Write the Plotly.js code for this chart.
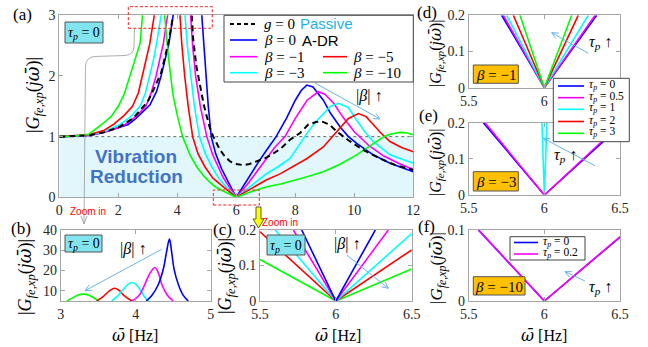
<!DOCTYPE html>
<html><head><meta charset="utf-8">
<script src="https://cdn.plot.ly/plotly-3.0.1.min.js"></script>
<style>html,body{margin:0;padding:0;background:#fff}#chart{width:648px;height:347px}</style>
</head><body><div id="chart"></div>
<script>
// ---------- Panel (a): |G| vs frequency, tau_p = 0 ----------
const aPassX = [0,0.5,1,1.5,2,2.5,3,3.2,3.45,3.6,3.72,3.86,4.17,4.49,4.54,4.65,4.77,4.9,5.0,5.1,5.22,5.35,5.45,5.6,5.79,6.0,6.24,6.45,6.69,7.0,7.25,7.5,7.82,8.16,8.44,8.7,8.9,9.15,9.42,9.8,10.3,10.87,11.4,12];
const aPassY = [1,1.005,1.02,1.07,1.15,1.3,1.58,1.78,2.05,2.35,2.6,3,10,3,2.6,2.15,1.82,1.52,1.33,1.15,1.0,0.87,0.78,0.68,0.59,0.55,0.53,0.55,0.59,0.65,0.72,0.8,0.95,1.06,1.2,1.24,1.25,1.2,1.08,0.94,0.78,0.64,0.53,0.45];
const aB0X = [0,0.5,1,1.5,2,2.34,2.6,2.85,3.07,3.3,3.45,3.6,3.72,3.86,4.45,4.83,4.9,4.97,5.05,5.15,5.3,5.5,5.65,5.78,5.9,6,6.1,6.25,6.5,6.75,7.0,7.35,7.7,8.0,8.2,8.39,8.6,8.8,8.95,9.2,9.52,9.8,10.08,10.64,11.21,12];
const aB0Y = [1,1.005,1.02,1.07,1.14,1.2,1.3,1.42,1.52,1.75,2.0,2.3,2.54,3,35,3,2.5,2.0,1.5,1.0,0.72,0.47,0.32,0.2,0.09,0,0.08,0.2,0.4,0.58,0.76,1.0,1.3,1.6,1.76,1.85,1.82,1.7,1.6,1.38,1.16,1.0,0.89,0.70,0.56,0.42];
const aB1X = [0,0.5,1,1.5,2,2.23,2.6,2.93,3.1,3.28,3.42,3.53,3.67,4.27,4.45,4.52,4.62,4.78,5.0,5.2,5.39,5.55,5.72,5.86,6,6.17,6.35,6.6,7.0,7.3,7.65,8.0,8.4,8.78,9.0,9.3,9.6,10.0,10.5,11.0,11.5,12];
const aB1Y = [1,1.005,1.02,1.07,1.15,1.2,1.33,1.5,1.7,2.0,2.3,2.54,3,21,3,2.5,2.0,1.5,1.0,0.7,0.5,0.33,0.2,0.1,0,0.1,0.2,0.36,0.62,0.82,1.0,1.3,1.6,1.74,1.7,1.55,1.33,1.08,0.85,0.68,0.56,0.46];
const aB3X = [0,0.5,1,1.5,2.06,2.4,2.74,2.92,3.07,3.2,3.3,3.45,3.95,4.26,4.34,4.45,4.58,4.75,4.95,5.17,5.4,5.6,5.8,6,6.25,6.5,7.0,7.4,7.82,8.1,8.39,8.7,8.95,9.2,9.46,9.8,10.08,10.36,10.64,11.21,12];
const aB3Y = [1,1.01,1.025,1.08,1.2,1.32,1.5,1.72,2.0,2.28,2.54,3,14,3,2.5,2.0,1.5,1.0,0.72,0.5,0.32,0.2,0.1,0,0.095,0.19,0.38,0.5,0.64,0.84,1.05,1.25,1.38,1.5,1.55,1.48,1.27,1.08,0.92,0.70,0.56];
const aB5X = [0,0.5,1,1.5,1.83,2.2,2.48,2.68,2.81,2.95,3.07,3.22,3.72,4.09,4.15,4.25,4.37,4.52,4.7,4.94,5.2,5.5,5.75,6,6.25,6.5,7.0,7.5,7.82,8.4,8.95,9.25,9.52,9.8,10.14,10.4,10.64,10.9,11.21,11.6,12];
const aB5Y = [1,1.01,1.03,1.1,1.2,1.35,1.5,1.72,2.0,2.28,2.54,3,11.3,3,2.54,2.0,1.5,1.0,0.72,0.5,0.32,0.195,0.1,0,0.072,0.144,0.28,0.39,0.48,0.64,0.83,1.0,1.16,1.3,1.38,1.33,1.2,1.06,0.92,0.82,0.75];
const aB10X = [0,0.5,1,1.44,1.75,2.0,2.2,2.4,2.6,2.74,2.82,3.3,3.57,3.7,3.85,4.0,4.18,4.43,4.66,4.9,5.1,5.3,5.5,5.75,6,6.5,7.0,7.5,7.82,8.4,8.95,9.5,10.08,10.45,10.76,11.0,11.21,11.55,11.8,12];
const aB10Y = [1,1.01,1.04,1.2,1.33,1.5,1.7,2.0,2.3,2.54,3,8.4,3,2.3,1.7,1.35,1.0,0.7,0.5,0.35,0.25,0.17,0.117,0.058,0,0.09,0.17,0.22,0.26,0.34,0.42,0.54,0.70,0.82,0.92,1.0,1.04,1.07,1.06,1.03];

// ---------- Panel (b): first resonance peaks ----------
const bB0X = [4.14,4.22,4.30,4.37,4.41,4.45,4.48,4.51,4.57,4.63,4.70];
const bB0Y = [5,8,13,21,29,35.5,29,21,13,8,5];
const bB1X = [3.95,4.05,4.12,4.18,4.257,4.31,4.35,4.42,4.50];
const bB1Y = [5,8,13,18,21.5,18,13,8,5];
const bB3X = [3.68,3.76,3.83,3.9,3.955,4.01,4.06,4.11,4.17];
const bB3Y = [5,7.5,10.5,13.3,14.1,13,10.5,7.5,5];
const bB5X = [3.48,3.57,3.65,3.72,3.78,3.85,3.95];
const bB5Y = [5,7.3,10,11.3,10.2,7.5,5];
const bB10X = [3.08,3.17,3.24,3.30,3.37,3.44,3.50];
const bB10Y = [5,6.8,8.1,8.4,8.0,6.6,5];

// ---------- Panel (c): zoom near 6 Hz, tau_p = 0 ----------
const cB0X = [5.775,6,6.26], cB0Y = [0.2,0,0.2];
const cB1X = [5.72,6,6.346], cB1Y = [0.2,0,0.2];
const cB3X = [5.6,6,6.5], cB3Y = [0.2,0,0.19];
const cB5X = [5.5,6,6.5], cB5Y = [0.195,0,0.144];
const cB10X = [5.5,6,6.5], cB10Y = [0.117,0,0.09];

// ---------- Panel (d): beta = -1 ----------
const dT0X = [5.718,6,6.346], dT0Y = [0.2,0,0.2];
const dT05X = [5.729,6,6.335], dT05Y = [0.2,0,0.2];
const dT1X = [5.751,6,6.29], dT1Y = [0.2,0,0.2];
const dT2X = [5.795,6,6.224], dT2Y = [0.2,0,0.2];
const dT3X = [5.839,6,6.181], dT3Y = [0.2,0,0.2];

// ---------- Panel (e): beta = -3 ----------
const eT0X = [5.597,6,6.5], eT0Y = [0.2,0,0.19];
const eT05X = [5.608,6,6.5], eT05Y = [0.2,0,0.195];
const eT1X = [5.984,6,6.017], eT1Y = [0.2,0,0.2];

// ---------- Panel (f): beta = -10 ----------
const fT0X = [5.564,6,6.5], fT0Y = [0.1,0,0.09];
const fT02X = [5.566,6,6.5], fT02Y = [0.1,0,0.0905];

const C = {blue:'#0000ff', mag:'#ff00ff', cyan:'#00ffff', red:'#ff0000', green:'#00ff00', pass:'#000000'};
const W=648, H=347;
const X = v => v/W, Y = v => 1 - v/H;

function tr(x,y,color,xa,ya,extra){
  return Object.assign({x:x,y:y,type:'scatter',mode:'lines',line:{color:color,width:1.6},xaxis:xa,yaxis:ya,hoverinfo:'skip',showlegend:false},extra||{});
}
const traces = [
  tr(aB0X,aB0Y,C.blue,'x','y'), tr(aB1X,aB1Y,C.mag,'x','y'), tr(aB3X,aB3Y,C.cyan,'x','y'),
  tr(aB5X,aB5Y,C.red,'x','y'), tr(aB10X,aB10Y,C.green,'x','y'),
  tr(aPassX,aPassY,C.pass,'x','y',{line:{color:'#000',width:2,dash:'6px,4px'}}),
  tr(bB10X,bB10Y,C.green,'x2','y2',{line:{color:C.green,width:1.6,shape:'spline'}}),
  tr(bB5X,bB5Y,C.red,'x2','y2',{line:{color:C.red,width:1.6,shape:'spline'}}),
  tr(bB3X,bB3Y,C.cyan,'x2','y2',{line:{color:C.cyan,width:1.6,shape:'spline'}}),
  tr(bB1X,bB1Y,C.mag,'x2','y2',{line:{color:C.mag,width:1.6,shape:'spline'}}),
  tr(bB0X,bB0Y,C.blue,'x2','y2',{line:{color:C.blue,width:1.6,shape:'spline'}}),
  tr(cB10X,cB10Y,C.green,'x3','y3'), tr(cB5X,cB5Y,C.red,'x3','y3'), tr(cB3X,cB3Y,C.cyan,'x3','y3'),
  tr(cB1X,cB1Y,C.mag,'x3','y3'), tr(cB0X,cB0Y,C.blue,'x3','y3'),
  tr(dT0X,dT0Y,C.blue,'x4','y4'), tr(dT05X,dT05Y,C.mag,'x4','y4'), tr(dT1X,dT1Y,C.cyan,'x4','y4'),
  tr(dT2X,dT2Y,C.red,'x4','y4'), tr(dT3X,dT3Y,C.green,'x4','y4'),
  tr(eT0X,eT0Y,C.blue,'x5','y5'), tr(eT05X,eT05Y,C.mag,'x5','y5'), tr(eT1X,eT1Y,C.cyan,'x5','y5'),
  tr(fT0X,fT0Y,C.blue,'x6','y6'), tr(fT02X,fT02Y,C.mag,'x6','y6')
];

const ax = (dom, range, tickvals, anchor, ticktext) => {
  const o = {
  domain: dom, range: range, tickvals: tickvals, anchor: anchor,
  showline:true, linecolor:'#a6a6a6', linewidth:1, mirror:'ticks', ticks:'inside', ticklen:4, tickcolor:'#a6a6a6',
  showgrid:false, zeroline:false, fixedrange:true, ticklabelstandoff:0,
  tickfont:{family:'Liberation Serif, Times New Roman, serif', size:14, color:'#262626'}};
  if (ticktext) o.ticktext = ticktext;
  return o;
};
const dx = (a,b)=>[X(a),X(b)], dy = (top,bot)=>[Y(bot),Y(top)];

const layout = {
  width:W, height:H, margin:{l:0,r:0,t:0,b:0}, paper_bgcolor:'#fff', plot_bgcolor:'#fff', showlegend:false,
  xaxis: ax(dx(59.3,413.3),[0,12],[0,2,4,6,8,10,12],'y'),
  yaxis: ax(dy(15.3,197.3),[0,3],[0,1,2,3],'x'),
  xaxis2: ax(dx(60.7,210.7),[3,5],[3,4,5],'y2'),
  yaxis2: ax(dy(230,301),[5,40],[10,20,30,40],'x2'),
  xaxis3: ax(dx(260,411.7),[5.5,6.5],[5.5,6,6.5],'y3'),
  yaxis3: ax(dy(230,301),[0,0.2],[0,0.1,0.2],'x3'),
  xaxis4: ax(dx(468.7,620),[5.5,6.5],[5.5,6,6.5],'y4',['5.5','6','']),
  yaxis4: ax(dy(15.3,87.7),[0,0.2],[0,0.1,0.2],'x4'),
  xaxis5: ax(dx(468.7,620),[5.5,6.5],[5.5,6,6.5],'y5'),
  yaxis5: ax(dy(122.7,195),[0,0.2],[0,0.1,0.2],'x5'),
  xaxis6: ax(dx(468.7,620),[5.5,6.5],[5.5,6,6.5],'y6'),
  yaxis6: ax(dy(230,301),[0,0.1],[0,0.1],'x6')
};

// ---------- decorations ----------
const shapes = [];
const ann = [];
const pp = pts => pts.map(p => (X(p[0]).toFixed(5)+','+Y(p[1]).toFixed(5))).join(' ');
function line(x0,y0,x1,y1,color,w,dash,layer){
  shapes.push({type:'line',xref:'paper',yref:'paper',x0:X(x0),y0:Y(y0),x1:X(x1),y1:Y(y1),line:{color:color,width:w,dash:dash||'solid'},layer:layer||'above'});
}
function rect(x0,y0,x1,y1,fill,lc,lw,dash){
  shapes.push({type:'rect',xref:'paper',yref:'paper',x0:X(x0),y0:Y(y1),x1:X(x1),y1:Y(y0),fillcolor:fill,line:{color:lc,width:lw,dash:dash||'solid'},layer:'above'});
}
function arrow(x0,y0,x1,y1,color){
  line(x0,y0,x1,y1,color,1);
  const a = Math.atan2(y1-y0,x1-x0), L=7, s=0.45;
  line(x1,y1,x1-L*Math.cos(a-s),y1-L*Math.sin(a-s),color,1);
  line(x1,y1,x1-L*Math.cos(a+s),y1-L*Math.sin(a+s),color,1);
}
const SERIF = 'Liberation Serif, Times New Roman, serif';
const SANS = 'Liberation Sans, Arial, sans-serif';
function txt(x,y,t,size,opts){
  ann.push(Object.assign({xref:'paper',yref:'paper',x:X(x),y:Y(y),text:t,showarrow:false,xanchor:'center',yanchor:'middle',
    font:{family:SERIF,size:size,color:'#000'}},opts||{}));
}
function box(x0,y0,x1,y1,fill,t,size){
  rect(x0,y0,x1,y1,fill,'#555',1);
  txt((x0+x1)/2,(y0+y1)/2+1,t,size);
}
const OMB = '<span style="font-family:\'DejaVu Serif\'"><i>ω̄</i></span>';

// shaded "vibration reduction" band and |G|=1 reference line
shapes.push({type:'rect',xref:'x',yref:'y',x0:0,x1:12,y0:0,y1:1,fillcolor:'#e1f7fb',line:{width:0},layer:'below'});
shapes.push({type:'line',xref:'x',yref:'y',x0:0,x1:12,y0:1,y1:1,line:{color:'#444',width:0.8,dash:'dot'},layer:'below'});

// red dashed zoom boxes
rect(128.3,6.7,212.3,28.3,'rgba(0,0,0,0)','#ff2020',1,'3px,2px');
rect(213.3,190,259.3,205,'rgba(0,0,0,0)','#ff2020',1,'3px,2px');

// gray zoom-in leader line
shapes.push({type:'path',xref:'paper',yref:'paper',layer:'above',line:{color:'#999',width:0.8},
  path:'M'+pp([[134.5,29]])+' L'+pp([[134,47]])+' Q'+pp([[133.5,55],[125,55.5]])+' L'+pp([[95,56.5]])+' Q'+pp([[86,57],[85.5,66]])+' L'+pp([[84,224]])});
line(84,224,81,216,'#999',0.8); line(84,224,87,216,'#999',0.8);

// yellow block arrow
shapes.push({type:'path',xref:'paper',yref:'paper',layer:'above',fillcolor:'#ffff00',line:{color:'#333',width:0.8},
  path:'M'+pp([[256,207]])+' L'+pp([[261,207]])+' L'+pp([[261,219]])+' L'+pp([[264,219]])+' L'+pp([[258.5,228]])+' L'+pp([[253,219]])+' L'+pp([[256,219]])+' Z'});

// Vibration Reduction
txt(136,157,'<b>Vibration</b>',19,{font:{family:SANS,size:19,color:'#4472c4'}});
txt(136,176,'<b>Reduction</b>',19,{font:{family:SANS,size:19,color:'#4472c4'}});
txt(88,211,'Zoom in',10,{font:{family:SANS,size:10,color:'#ff0000'}});
txt(280,222,'Zoom in',10,{font:{family:SANS,size:10,color:'#ff0000'}});

// tau/beta tag boxes
const tau0 = '<i>τ<sub>p</sub></i> = 0';
box(65,22,103,43,'#80e5ef',tau0,14);
box(65,235,102,252,'#80e5ef',tau0,14);
box(267,235,305,255,'#80e5ef',tau0,14);
box(473.3,65,518.3,83.3,'#ffc000','<i>β</i> = −1',15);
box(473.3,171.7,518.3,191,'#ffc000','<i>β</i> = −3',15);
box(473.3,276.7,525,295,'#ffc000','<i>β</i> = −10',15);

// trend arrows and labels
const ac = '#6ab4e6';
arrow(315,83,380,119,ac); txt(369,96,'|<i>β</i>| ↑',16);
arrow(161.7,249.3,85,290.7,ac); txt(133,249,'|<i>β</i>| ↑',16);
arrow(346.7,255,388.3,288.3,ac); txt(347,244,'|<i>β</i>| ↑',16);
arrow(588.3,53.3,551.7,32.7,ac); txt(600,43,'<i>τ<sub>p</sub></i> ↑',16);
arrow(595,165.7,543.3,138.3,ac); txt(565,155,'<i>τ<sub>p</sub></i> ↑',16);
arrow(585,281,565,271.7,ac); txt(600,287,'<i>τ<sub>p</sub></i> ↑',16);

// panel (a) legend
rect(224,15.3,413.3,82,'#ffffff','#444',1);
line(230,24,257,24,'#000',2,'4px,3px');
line(230,40,257,40,C.blue,1.6); line(230,56.7,257,56.7,C.mag,1.6); line(230,72.7,257,72.7,C.cyan,1.6);
line(323,56.7,347,56.7,C.red,1.6); line(323,72.7,347,72.7,C.green,1.6);
const lfs = 15;
txt(262,24,'<i>g</i> = 0',lfs,{xanchor:'left'});
txt(298,24,'Passive',15,{xanchor:'left',font:{family:SANS,size:15,color:'#1fb1e6'}});
txt(262,40,'<i>β</i> = 0',lfs,{xanchor:'left'});
txt(300,40,'A-DR',15,{xanchor:'left',font:{family:SANS,size:15,color:'#000'}});
txt(262,56.7,'<i>β</i> = −1',lfs,{xanchor:'left'});
txt(262,72.7,'<i>β</i> = −3',lfs,{xanchor:'left'});
txt(351,56.7,'<i>β</i> = −5',lfs,{xanchor:'left'});
txt(351,72.7,'<i>β</i> = −10',lfs,{xanchor:'left'});

// panel (d)/(e) legend
rect(553.3,78.3,629.3,141.7,'#ffffff','#444',1);
[[86,C.blue,'0'],[97.7,C.mag,'0.5'],[109.3,C.cyan,'1'],[121.5,C.red,'2'],[133.3,C.green,'3']].forEach(r=>{
  line(558,r[0],584,r[0],r[1],1.6); txt(587,r[0]-1,'<i>τ<sub>p</sub></i> = '+r[2],11.5,{xanchor:'left'}); });
// panel (f) legend
rect(510,236.7,585,260,'#ffffff','#444',1);
[[242.5,C.blue,'0'],[254,C.mag,'0.2']].forEach(r=>{
  line(514,r[0],538,r[0],r[1],1.6); txt(541,r[0]-1,'<i>τ<sub>p</sub></i> = '+r[2],11.5,{xanchor:'left'}); });

// panel letters
txt(22,15,'(a)',17); txt(21,228,'(b)',17); txt(223,229,'(c)',17);
txt(427,13,'(d)',17); txt(428,115,'(e)',17); txt(426,226,'(f)',17);

// axis titles
const yl = '|<i>G</i><sub><i>fe,xp</i></sub>(<i>j</i>'+OMB+')|';
txt(34,95,yl,18,{textangle:-90});
txt(26,277,yl,18,{textangle:-90});
txt(226,276,yl,18,{textangle:-90});
txt(436,53,yl,16,{textangle:-90});
txt(436,162,yl,16,{textangle:-90});
txt(437,268,yl,17,{textangle:-90});
const xl = OMB+' [Hz]';
txt(135,335,xl,16); txt(338,335,xl,16); txt(544,335,xl,16);

layout.shapes = shapes;
layout.annotations = ann;
Plotly.newPlot('chart', traces, layout, {staticPlot:true, displayModeBar:false});
</script>
</body></html>
